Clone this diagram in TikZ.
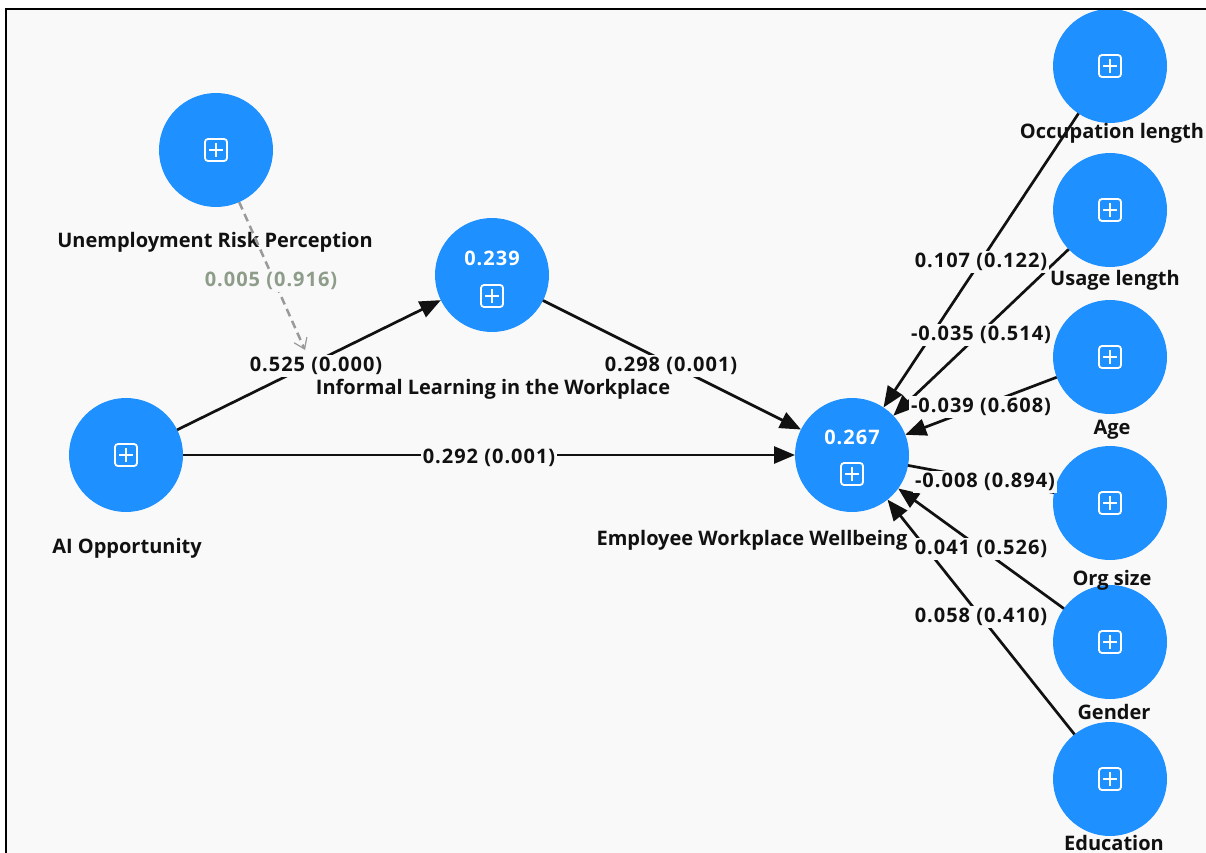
\documentclass[tikz,border=0pt]{standalone}
\usepackage{fontspec}
\setmainfont{Open Sans}
\newfontfamily\numfont{Open Sans}[LetterSpace=5]
\usetikzlibrary{arrows.meta,calc}
\definecolor{bg}{HTML}{F9F9F9}
\definecolor{nodeblue}{HTML}{1E90FF}
\definecolor{insig}{HTML}{8E9C8A}
\definecolor{dashgray}{HTML}{9A9A9A}
\definecolor{ink}{HTML}{111111}
\begin{document}
\begin{tikzpicture}[x=1pt,y=-1pt,
  lv/.style={circle, fill=nodeblue, minimum size=114pt, inner sep=0pt, outer sep=0pt},
  nlabel/.style={font=\fontsize{20}{22}\selectfont\bfseries, text=ink, inner sep=1pt},
  elabel/.style={font=\numfont\fontsize{20}{22}\selectfont\bfseries, fill=bg, inner sep=2pt, text=ink},
  rsq/.style={font=\numfont\fontsize{20}{22}\selectfont\bfseries, text=white, inner sep=0pt},
  pathline/.style={line width=2.7pt, draw=ink, -{Triangle[length=21pt,width=17pt]}},
  plainline/.style={line width=2.7pt, draw=ink},
  dashline/.style={line width=2.5pt, draw=dashgray, dash pattern=on 8pt off 5pt,
     -{Straight Barb[length=10pt,width=14pt,line width=1.2pt]}},
  plusicon/.pic={
    \draw[white, line width=1.8pt, rounded corners=3pt] (-11,-11) rectangle (11,11);
    \draw[white, line width=1.8pt] (-7,0) -- (7,0) (0,-7) -- (0,7);
  }]
\useasboundingbox (0,0) rectangle (1206,853);
\fill[white] (0,0) rectangle (1206,853);
\fill[bg] (6,9) rectangle (1206,853);

% latent variables
\node[lv] (URP) at (216,150) {};
\node[lv] (IL)  at (492,275) {};
\node[lv] (AI)  at (126,455) {};
\node[lv] (EWW) at (852,455) {};
\node[lv] (OCC) at (1110,66) {};
\node[lv] (USE) at (1110,210) {};
\node[lv] (AGE) at (1110,357) {};
\node[lv] (ORG) at (1110,503) {};
\node[lv] (GEN) at (1110,642) {};
\node[lv] (EDU) at (1110,779) {};

% icons and R-squared values
\pic at (URP) {plusicon};
\pic at (AI) {plusicon};
\pic at (OCC) {plusicon};
\pic at (USE) {plusicon};
\pic at (AGE) {plusicon};
\pic at (ORG) {plusicon};
\pic at (GEN) {plusicon};
\pic at (EDU) {plusicon};
\pic at ($(IL)+(0,21)$) {plusicon};
\pic at ($(EWW)+(0,19)$) {plusicon};
\node[rsq] (ILr) at ($(IL)+(0,-17)$) {0.239};
\node[rsq] (EWWr) at ($(EWW)+(0,-18)$) {0.267};

% node labels
\node[nlabel] (URPl) at (215,242) {Unemployment Risk Perception};
\node[nlabel] (ILl)  at (493,389) {Informal Learning in the Workplace};
\node[nlabel] (AIl)  at (127,548) {AI Opportunity};
\node[nlabel] (EWWl) at (752,540) {Employee Workplace Wellbeing};
\node[nlabel] (OCCl) at (1112,133) {Occupation length};
\node[nlabel] (USEl) at (1115,280) {Usage length};
\node[nlabel] (AGEl) at (1112,430) {Age};
\node[nlabel] (ORGl) at (1112,580) {Org size};
\node[nlabel] (GENl) at (1114,712) {Gender};
\node[nlabel] (EDUl) at (1114,843) {Education};

% paths
\coordinate (mt) at (305,350);
\draw[pathline] (AI) -- (IL);
\draw[pathline] (IL) -- (EWW);
\draw[pathline] (AI) -- (EWW);
\draw[dashline] (URP) -- (mt);
\draw[pathline] (OCC) -- (EWW);
\draw[pathline] (USE) -- (EWW);
\draw[pathline] (AGE) -- (EWW);
\draw[plainline] (ORG) -- (EWW);
\draw[pathline] (GEN) -- (EWW);
\draw[pathline] (EDU) -- (EWW);

% path labels
\node[elabel, text=insig] (e0) at (271,281) {0.005 (0.916)};
\node[elabel] (e1) at (316,366) {0.525 (0.000)};
\node[elabel] (e2) at (671,366) {0.298 (0.001)};
\node[elabel] (e3) at (489,458) {0.292 (0.001)};
\node[elabel] (e4) at (981,262) {0.107 (0.122)};
\node[elabel] (e5) at (981,335) {-0.035 (0.514)};
\node[elabel] (e6) at (981,407) {-0.039 (0.608)};
\node[elabel] (e7) at (985,482) {-0.008 (0.894)};
\node[elabel] (e8) at (981,549) {0.041 (0.526)};
\node[elabel] (e9) at (981,617) {0.058 (0.410)};

% frame
\draw[line width=2.5pt, black] (6,853) -- (6,9) -- (1206,9);
\end{tikzpicture}
\end{document}
